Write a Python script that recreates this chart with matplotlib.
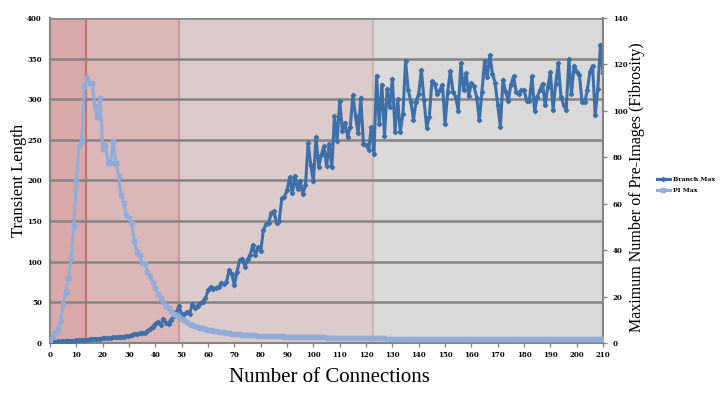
import matplotlib
matplotlib.use("Agg")
import matplotlib.pyplot as plt

# connections 0..210
connections = list(range(0, 211))

# Branch Max (left axis, transient length)
branch_max = [
    1, 1, 1.5, 2, 2, 2, 2.5, 3, 3, 3,
    3.5, 3.5, 4, 4, 4, 4.5, 5, 5, 5, 5.5,
    6, 6, 6, 6.5, 7, 7, 7.5, 8, 8, 8.5,
    9, 10, 11, 11, 12, 12, 13, 15, 17, 20,
    24, 26, 22, 30, 25, 24, 29, 33, 38, 46,
    35, 36, 38, 36, 48, 43, 46, 49, 51, 55,
    65, 69, 67, 68, 69, 74, 73, 75, 90, 85,
    71, 88, 102, 104, 94, 103, 108, 121, 108, 118,
    113, 139, 146, 148, 160, 162, 148, 150, 178, 180,
    188, 204, 184, 205, 189, 199, 183, 194, 246, 219,
    199, 253, 217, 231, 242, 218, 245, 216, 279, 249,
    298, 261, 271, 254, 266, 305, 279, 258, 302, 245,
    244, 238, 266, 233, 329, 270, 318, 255, 312, 290,
    325, 260, 300, 260, 282, 347, 311, 297, 275, 297,
    307, 336, 299, 265, 278, 322, 319, 307, 311, 318,
    270, 309, 335, 309, 303, 286, 344, 311, 332, 304,
    320, 316, 302, 274, 309, 347, 327, 354, 331, 320,
    293, 266, 324, 309, 298, 318, 328, 309, 306, 311,
    311, 298, 298, 328, 285, 303, 311, 319, 293, 315,
    333, 287, 319, 344, 303, 293, 287, 349, 307, 341,
    334, 330, 297, 296, 311, 334, 341, 281, 313, 367,
    332,
]

# PI Max (right axis, max number of pre-images)
pi_max = [
    1.4, 2.8, 4.2, 5.6, 9.8, 16.8, 22.0, 28.0, 36.4, 50.4,
    70.0, 84.7, 86.8, 110.6, 114.1, 112.0, 112.0, 101.9, 97.3, 105.7,
    83.7, 85.4, 77.7, 77.7, 87.2, 77.7, 72.1, 63.7, 60.2, 55.0,
    53.9, 51.8, 43.8, 39.2, 37.8, 34.3, 34.3, 30.8, 28.7, 26.3,
    23.5, 21.0, 19.6, 17.5, 15.8, 15.0, 13.7, 12.6, 11.9, 11.2,
    10.5, 9.8, 9.1, 8.4, 7.9, 7.4, 7.0, 6.7, 6.3, 6.0,
    5.8, 5.6, 5.3, 5.1, 4.9, 4.7, 4.6, 4.4, 4.2, 4.0,
    3.9, 3.8, 3.7, 3.6, 3.5, 3.4, 3.4, 3.3, 3.3, 3.2,
    3.2, 3.1, 3.1, 3.0, 3.0, 3.0, 2.9, 2.9, 2.9, 2.8,
    2.8, 2.7, 2.7, 2.7, 2.7, 2.7, 2.6, 2.6, 2.6, 2.6,
    2.6, 2.5, 2.5, 2.5, 2.5, 2.4, 2.4, 2.4, 2.3, 2.3,
    2.3, 2.2, 2.2, 2.2, 2.2, 2.1, 2.1, 2.1, 2.1, 2.1,
    2.0, 2.0, 2.0, 2.0, 2.0, 2.0, 2.0, 2.0, 1.9, 1.9,
    1.9, 1.9, 1.9, 1.9, 1.9, 1.9, 1.9, 1.9, 1.9, 1.9,
    1.9, 1.8, 1.8, 1.8, 1.8, 1.8, 1.8, 1.8, 1.8, 1.8,
    1.8, 1.8, 1.8, 1.8, 1.8, 1.8, 1.8, 1.8, 1.8, 1.8,
    1.8, 1.8, 1.8, 1.8, 1.8, 1.8, 1.8, 1.8, 1.8, 1.8,
    1.8, 1.8, 1.8, 1.8, 1.8, 1.8, 1.8, 1.8, 1.8, 1.8,
    1.8, 1.8, 1.8, 1.8, 1.8, 1.8, 1.8, 1.8, 1.8, 1.8,
    1.8, 1.8, 1.8, 1.8, 1.8, 1.8, 1.8, 1.8, 1.8, 1.8,
    1.8, 1.8, 1.8, 1.8, 1.8, 1.8, 1.8, 1.8, 1.8, 1.8,
    1.8,
]

# shaded regimes along x
band_edges = [0, 13.5, 49, 122.5, 210]
band_colors = ["#d9a9aa", "#dbb7b7", "#dccbcb", "#d9d9d9"]
edge_lines = [(13.5, "#c87373"), (49, "#c89a9a"), (122.5, "#c8b8b8")]

grey = "#858585"

fig = plt.figure(figsize=(7.22, 3.98), dpi=100)
ax = fig.add_axes([0.0693, 0.138, 0.766, 0.817])

for i in range(len(band_colors)):
    ax.axvspan(band_edges[i], band_edges[i + 1], color=band_colors[i], lw=0, zorder=0)
for xv, c in edge_lines:
    ax.axvline(xv, color=c, lw=1.6, zorder=1)

for yv in range(50, 401, 50):
    ax.axhline(yv, color=grey, lw=1.8, zorder=1)

l1, = ax.plot(connections, branch_max, color="#3d6fa8", lw=2.2, marker="D",
              markersize=2.2, zorder=3, label="Branch Max")

ax2 = ax.twinx()
l2, = ax2.plot(connections, pi_max, color="#91acd8", lw=2.2, marker="s",
               markersize=2.8, zorder=3, label="PI Max")

ax.set_xlim(0, 210)
ax.set_ylim(0, 400)
ax2.set_ylim(0, 140)

ax.set_xticks(range(0, 211, 10))
ax.set_yticks(range(0, 401, 50))
ax2.set_yticks(range(0, 141, 20))
ax.tick_params(axis="x", direction="out", length=3, color=grey, width=1, pad=3)
ax.tick_params(axis="y", length=0, pad=6)
ax2.tick_params(axis="y", direction="out", length=3, color=grey, width=1, pad=4)
for lab in ax.get_xticklabels() + ax.get_yticklabels() + ax2.get_yticklabels():
    lab.set_fontfamily("DejaVu Serif")
    lab.set_fontsize(5)
    lab.set_fontweight("bold")

for a in (ax, ax2):
    for s in a.spines.values():
        s.set_visible(False)
for a, side in ((ax, "left"), (ax, "bottom"), (ax2, "right")):
    a.spines[side].set_visible(True)
    a.spines[side].set_color(grey)
    a.spines[side].set_linewidth(1.5)

# axis titles placed by figure pixels
W, H = 722, 398
fig.text(329 / W, 1 - 377 / H, "Number of Connections", family="Liberation Serif",
         fontsize=15, ha="center", va="center")
fig.text(19 / W, 1 - 180 / H, "Transient Length", family="Liberation Serif",
         fontsize=12, rotation=90, ha="center", va="center")
fig.text(637 / W, 1 - 187 / H, "Maximum Number of Pre-Images (Fibrosity)",
         family="Liberation Serif", fontsize=11.5, rotation=90, ha="center", va="center")

fig.legend(handles=[l1, l2], loc="center left", bbox_to_anchor=(0.905, 0.535),
           frameon=False, prop={"family": "DejaVu Serif", "size": 4.5, "weight": "bold"},
           handlelength=2.2, labelspacing=0.9, handletextpad=0.4, borderpad=0)

fig.savefig("out.png", dpi=100)
